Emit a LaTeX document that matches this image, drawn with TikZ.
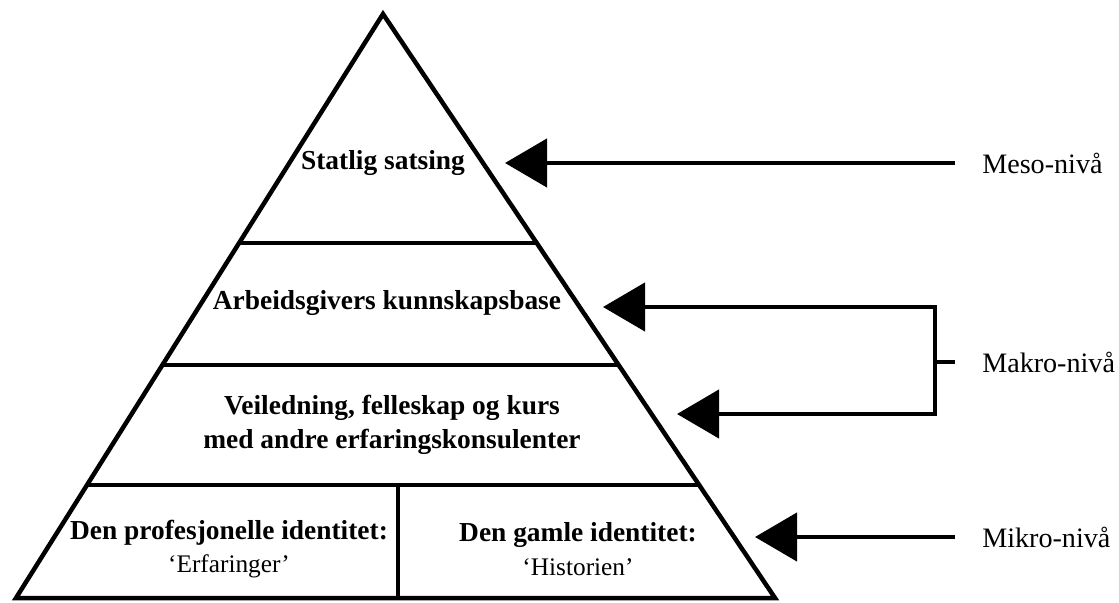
\documentclass[tikz,border=0pt]{standalone}
\usepackage{fontspec}
\setmainfont{Liberation Serif}
\usetikzlibrary{arrows.meta,calc}

\begin{document}
\begin{tikzpicture}[x=0.025cm, y=-0.025cm, line width=3.2pt,
    level/.style={font=\fontsize{20}{24}\selectfont, anchor=west, inner xsep=0.625cm, inner ysep=0pt},
    layer/.style={font=\fontsize{19.5}{24}\selectfont\bfseries, align=center},
    pointer/.style={-{Triangle[length=1.05cm, width=1.2cm]}}]
  \useasboundingbox (0,0) rectangle (1119,603);
  % pyramid
  \coordinate (apex) at (383,14);
  \coordinate (left) at (16,598);
  \coordinate (right) at (775,598);
  \draw (apex) -- (left) -- (right) -- cycle;
  \foreach \t in {0.392,0.601,0.8065}
    \draw ($(apex)!\t!(left)$) -- ($(apex)!\t!(right)$);
  \draw (398,485) -- (398,598);
  % layers
  \node[layer] (statlig) at (383,163) {Statlig satsing};
  \node[layer] (arbeid) at (387,303) {Arbeidsgivers kunnskapsbase};
  \node[layer] (veiledning) at (392,425) {Veiledning, felleskap og kurs\\med andre erfaringskonsulenter};
  \node[layer] (profesjonell) at (229,549) {Den profesjonelle identitet:\\{\fontsize{18}{24}\selectfont\mdseries `Erfaringer'}};
  \node[layer] (gamle) at (578,549) {Den gamle identitet:\\{\fontsize{18}{24}\selectfont\mdseries `Historien'}};
  % levels
  \node[level] (meso) at (955,163) {Meso-nivå};
  \node[level] (makro) at (955,362) {Makro-nivå};
  \node[level] (mikro) at (955,537) {Mikro-nivå};
  \coordinate (mesotip) at (505,163);
  \coordinate (arbtip) at (603,307);
  \coordinate (veiltip) at (677,414);
  \coordinate (mikrotip) at (755,537);
  \coordinate (brk) at (935,362);
  \draw[pointer] (meso.west) -- (mesotip);
  \draw (makro.west) -- (brk);
  \draw[pointer] (brk) |- (arbtip);
  \draw[pointer] (brk) |- (veiltip);
  \draw[pointer] (mikro.west) -- (mikrotip);
\end{tikzpicture}
\end{document}
